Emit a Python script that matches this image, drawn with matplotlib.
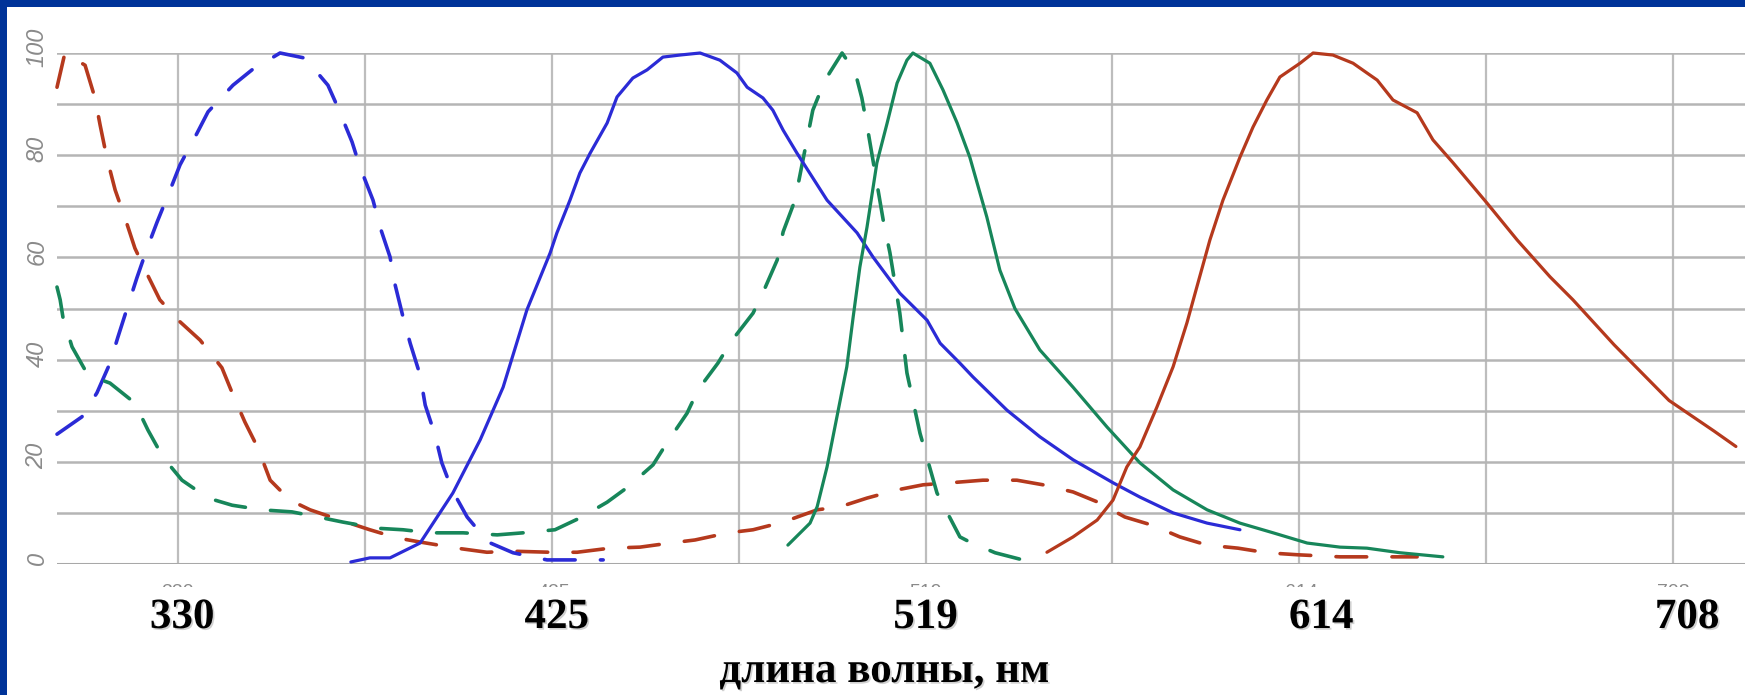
import matplotlib
matplotlib.use('Agg')  # no display, render straight to file

import matplotlib.pyplot as plt
import matplotlib.patheffects as pe
from matplotlib import transforms
from matplotlib.patches import Rectangle

# excitation / emission spectra: wavelength (nm) vs relative intensity (%)
blue_ex_nm = [299.4, 305.7, 309.5, 312.8, 314.8, 317.4, 319.6, 322.2, 324.7, 328.0,
              330.5, 334.8, 337.6, 343.9, 348.7, 355.8, 362.1, 367.9, 370.5, 374.0,
              376.0, 379.3, 381.1, 383.6, 384.9, 386.9, 388.7, 391.2, 392.5, 395.0,
              396.7, 399.3, 403.1, 408.4, 414.7, 423.3, 429.1, 437.5]
blue_ex_val = [25.4, 28.8, 33.5, 39.3, 44.4, 50.7, 56.0, 61.8, 66.9, 73.2,
               78.1, 84.3, 88.5, 93.7, 96.7, 100.0, 99.0, 93.7, 89.2, 82.6,
               77.7, 71.2, 65.9, 60.1, 54.6, 48.3, 43.2, 37.0, 31.1, 25.2,
               19.8, 14.5, 9.2, 4.3, 2.2, 0.8, 0.8, 0.8]

blue_em_nm = [373.7, 378.5, 383.6, 391.2, 399.5, 406.4, 412.2, 418.2, 424.1, 425.8,
              429.1, 431.6, 434.2, 438.5, 441.0, 445.0, 448.6, 452.6, 456.9, 462.0,
              467.0, 471.3, 473.9, 477.9, 480.4, 483.0, 486.5, 494.1, 501.7, 505.7,
              512.5, 519.4, 522.7, 527.7, 531.0, 539.6, 547.9, 556.3, 566.4, 573.2,
              581.6, 590.2, 598.5]
blue_em_val = [0.4, 1.2, 1.2, 4.1, 13.9, 24.3, 34.6, 49.7, 60.9, 64.8,
               71.2, 76.5, 80.4, 86.3, 91.4, 95.1, 96.7, 99.2, 99.6, 100.0,
               98.6, 96.1, 93.3, 91.2, 88.8, 84.9, 80.4, 71.2, 64.8, 60.1,
               53.0, 47.7, 43.2, 39.3, 36.6, 30.1, 24.9, 20.4, 15.9, 13.1,
               10.0, 8.0, 6.7]

green_ex_nm = [299.4, 300.2, 300.9, 303.2, 307.2, 312.8, 319.1, 322.4, 326.2, 331.0,
               337.6, 343.7, 351.2, 358.8, 365.4, 371.7, 380.3, 386.9, 393.7, 402.1,
               410.7, 417.2, 425.3, 431.6, 438.5, 443.8, 450.1, 453.6, 458.7, 461.5,
               466.5, 470.1, 475.4, 478.4, 481.5, 483.0, 486.0, 490.5, 493.6, 497.9,
               501.2, 502.9, 504.5, 508.3, 510.0, 512.5, 514.3, 517.6, 521.9, 527.7,
               530.2, 536.6, 543.6]
green_ex_val = [54.2, 51.7, 48.3, 42.5, 37.0, 35.4, 31.5, 26.2, 20.9, 16.4,
                12.9, 11.5, 10.6, 10.2, 9.2, 8.2, 7.0, 6.7, 6.1, 6.1,
                5.7, 6.1, 6.7, 9.0, 12.1, 15.1, 19.4, 23.7, 29.5, 34.1,
                39.3, 43.8, 49.1, 54.0, 59.5, 65.0, 71.2, 88.8, 94.7, 100.0,
                96.3, 91.2, 84.5, 67.3, 60.9, 49.1, 37.4, 25.6, 13.9, 5.3,
                4.3, 2.2, 0.8]

green_em_nm = [484.2, 489.8, 491.6, 494.1, 496.6, 499.1, 500.7, 502.4, 504.2, 506.7,
               509.3, 511.8, 514.3, 515.8, 520.1, 523.4, 527.0, 530.2, 534.5, 537.8,
               541.6, 547.9, 556.3, 564.9, 573.2, 581.6, 590.2, 598.5, 606.9, 615.5,
               623.8, 630.6, 639.0, 649.8]
green_em_val = [3.7, 8.0, 11.2, 19.0, 28.8, 38.6, 48.3, 58.1, 65.9, 78.5,
                86.3, 94.1, 98.6, 100.0, 98.0, 92.8, 86.3, 79.6, 67.9, 57.5,
                50.0, 41.9, 34.6, 26.8, 19.8, 14.5, 10.6, 8.0, 6.1, 4.1,
                3.3, 3.1, 2.2, 1.4]

red_ex_nm = [299.4, 301.4, 306.5, 309.0, 310.3, 312.0, 314.1, 316.6, 319.1, 321.7,
             325.4, 330.5, 335.6, 341.1, 343.9, 346.9, 350.2, 353.3, 358.3, 363.4,
             371.0, 378.5, 385.4, 391.2, 400.5, 408.1, 414.7, 424.1, 430.9, 439.2,
             446.8, 454.4, 460.7, 469.1, 475.4, 483.0, 491.6, 497.4, 504.2, 511.8,
             518.4, 527.0, 533.5, 542.1, 548.7, 556.3, 562.6, 569.4, 576.3, 583.3,
             590.2, 598.0, 605.3, 613.2, 623.8, 643.3]
red_ex_val = [93.3, 100.0, 97.6, 91.2, 85.9, 79.5, 73.2, 67.7, 61.8, 57.5,
              51.7, 47.4, 43.8, 38.4, 33.1, 27.8, 22.7, 16.4, 12.5, 10.6,
              8.6, 6.7, 5.1, 4.3, 3.1, 2.3, 2.5, 2.3, 2.3, 3.1,
              3.3, 4.1, 4.7, 6.1, 6.7, 8.2, 10.6, 11.2, 12.9, 14.5,
              15.5, 16.0, 16.4, 16.4, 15.5, 14.1, 12.1, 9.2, 7.6, 5.3,
              3.7, 3.1, 2.2, 1.8, 1.4, 1.4]

red_em_nm = [549.7, 556.3, 562.4, 566.4, 569.9, 573.2, 577.5, 581.6, 585.1, 587.6,
             590.9, 594.2, 598.5, 601.8, 605.3, 608.6, 613.7, 617.0, 622.0, 627.1,
             630.6, 633.2, 637.2, 643.3, 647.3, 652.4, 661.0, 668.6, 676.9, 682.7,
             693.1, 707.0, 718.4, 723.9]
red_em_val = [2.3, 5.3, 8.6, 12.5, 19.0, 22.9, 30.7, 38.6, 47.2, 54.2,
              63.4, 71.2, 79.6, 85.5, 90.8, 95.3, 98.0, 100.0, 99.6, 98.0,
              96.1, 94.7, 90.8, 88.3, 83.0, 78.5, 70.6, 63.4, 56.2, 51.7,
              42.9, 32.0, 26.0, 23.0]

tick_nm = [330, 425, 519, 614, 708]
tick_labels = ['330', '425', '519', '614', '708']
grid_nm = [330, 377.25, 424.5, 471.75, 519, 566.25, 613.5, 660.75, 708]
y_ticks = [0, 20, 40, 60, 80, 100]
y_grid = [0, 10, 20, 30, 40, 50, 60, 70, 80, 90, 100]

BLUE = '#2b2bd6'
GREEN = '#17865a'
RED = '#b5391d'

fig = plt.figure(figsize=(17.45, 6.95), dpi=100, facecolor='#003399')
# white slide panel inside the blue frame
fig.add_artist(Rectangle((7 / 1745, 0), 1, 1 - 7 / 695, transform=fig.transFigure,
                         facecolor='white', edgecolor='none', zorder=0))

ax = fig.add_axes([57 / 1745, 131 / 695, 1 - 57 / 1745, 511 / 695])
ax.set_facecolor('none')
ax.set_xlim(299.4, 726.2)
ax.set_ylim(0, 100)
for s in ax.spines.values():
    s.set_visible(False)
ax.set_xticks([])
ax.set_yticks([])

for x in grid_nm:
    ax.axvline(x, color='#bdbdbd', lw=1.6, zorder=1)
for y in y_grid:
    ax.axhline(y, color='#b5b5b5' if y else '#a8a8a8', lw=1.8 if y else 2.2, zorder=1)

dash = dict(lw=2.6, dashes=(8.5, 7), dash_capstyle='round', clip_on=False, zorder=3)
solid = dict(lw=2.3, solid_capstyle='round', clip_on=False, zorder=3)
ax.plot(red_ex_nm, red_ex_val, color=RED, **dash)
ax.plot(blue_ex_nm, blue_ex_val, color=BLUE, **dash)
ax.plot(green_ex_nm, green_ex_val, color=GREEN, **dash)
ax.plot(blue_em_nm, blue_em_val, color=BLUE, **solid)
ax.plot(green_em_nm, green_em_val, color=GREEN, **solid)
ax.plot(red_em_nm, red_em_val, color=RED, **solid)

# rotated grey y labels
ytrans = transforms.offset_copy(ax.get_yaxis_transform(), fig=fig, x=-20, y=6, units='dots')
for v in y_ticks:
    ax.text(0, v, str(v), transform=ytrans, rotation=90, ha='center', va='center',
            fontsize=17, color='#8a8a8a', style='italic', family='Liberation Sans')

# small grey chart labels, mostly hidden behind the big ones
xfig = transforms.blended_transform_factory(ax.transData, fig.transFigure)
for x, lab in zip(tick_nm, tick_labels):
    fig.text(x, 1 - 597 / 695, lab, transform=xfig, ha='center', va='baseline',
             fontsize=14, color='#8a8a8a', family='Liberation Sans', zorder=3)
fig.add_artist(Rectangle((7 / 1745, 1 - 600 / 695), 1, 13 / 695, transform=fig.transFigure,
                         facecolor='white', edgecolor='none', zorder=4))

shadow = [pe.withSimplePatchShadow(offset=(1.2, -1.2), shadow_rgbFace='#999999', alpha=0.45)]
label_shift = [4, 3, 0, 20, 14]
for x, lab, dx in zip(tick_nm, tick_labels, label_shift):
    tr = transforms.offset_copy(xfig, fig=fig, x=dx, y=0, units='dots')
    fig.text(x, 1 - 628 / 695, lab, transform=tr, ha='center', va='baseline',
             fontsize=31, fontweight='bold', family='Liberation Serif',
             color='black', path_effects=shadow, zorder=5)

fig.text(884 / 1745, 1 - 682 / 695, 'длина волны, нм', ha='center', va='baseline',
         fontsize=31, fontweight='bold', family='Liberation Serif', color='black',
         path_effects=shadow, zorder=5)

fig.savefig('out.png', dpi=100, facecolor=fig.get_facecolor())
plt.close(fig)
